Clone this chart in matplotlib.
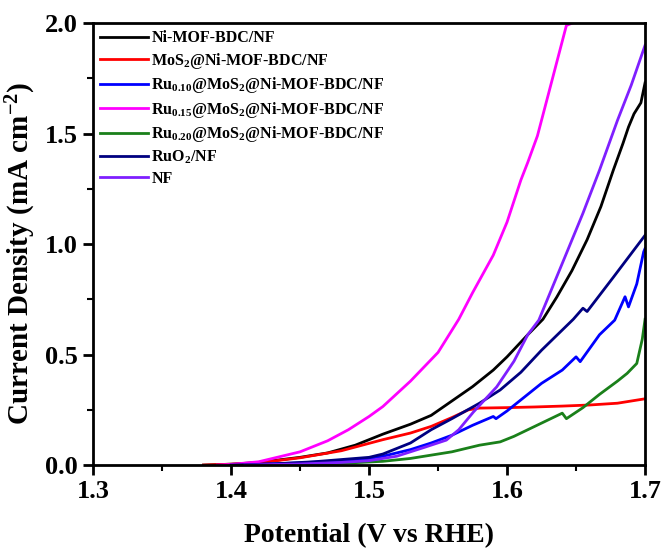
import numpy as np
import matplotlib.pyplot as plt
from matplotlib.ticker import MultipleLocator

plt.rcParams['font.family'] = 'Liberation Serif'
plt.rcParams['font.weight'] = 'bold'
plt.rcParams['mathtext.fontset'] = 'custom'
plt.rcParams['mathtext.rm'] = 'Liberation Serif:bold'
plt.rcParams['mathtext.bf'] = 'Liberation Serif:bold'
plt.rcParams['mathtext.default'] = 'bf'

# LSV curves, potential (V vs RHE) and current density (mA cm-2)
v_ni = [1.38, 1.40, 1.42, 1.45, 1.47, 1.49, 1.51, 1.53, 1.545, 1.56, 1.575, 1.59, 1.60,
        1.615, 1.626, 1.636, 1.647, 1.658, 1.668, 1.677, 1.684, 1.688, 1.692, 1.697, 1.70]
j_ni = [0.0, 0.004, 0.012, 0.035, 0.055, 0.09, 0.14, 0.185, 0.225, 0.29, 0.355, 0.43, 0.49,
        0.59, 0.66, 0.76, 0.88, 1.02, 1.17, 1.335, 1.456, 1.53, 1.59, 1.64, 1.73]

v_mos2 = [1.38, 1.40, 1.42, 1.45, 1.48, 1.51, 1.53, 1.545, 1.56, 1.572, 1.58, 1.60, 1.62,
          1.64, 1.66, 1.68, 1.70]
j_mos2 = [0.0, 0.004, 0.01, 0.033, 0.065, 0.115, 0.145, 0.175, 0.215, 0.25, 0.258, 0.26,
          0.263, 0.267, 0.272, 0.28, 0.30]

v_ru10 = [1.40, 1.45, 1.48, 1.50, 1.51, 1.53, 1.545, 1.56, 1.575, 1.59, 1.592, 1.60, 1.615,
          1.625, 1.64, 1.65, 1.653, 1.667, 1.678, 1.6855, 1.688, 1.694, 1.699, 1.70]
j_ru10 = [0.0, 0.01, 0.02, 0.03, 0.04, 0.07, 0.10, 0.135, 0.18, 0.22, 0.21, 0.245, 0.32,
          0.37, 0.43, 0.49, 0.468, 0.59, 0.656, 0.762, 0.716, 0.82, 0.965, 0.98]

v_ru15 = [1.39, 1.40, 1.42, 1.45, 1.47, 1.485, 1.50, 1.51, 1.53, 1.55, 1.565, 1.575, 1.59,
          1.60, 1.61, 1.615, 1.622, 1.63, 1.643, 1.647]
j_ru15 = [0.0, 0.003, 0.015, 0.06, 0.11, 0.16, 0.22, 0.265, 0.38, 0.51, 0.66, 0.78, 0.95,
          1.10, 1.29, 1.37, 1.49, 1.68, 1.99, 2.0]

v_ru20 = [1.42, 1.45, 1.48, 1.51, 1.53, 1.545, 1.56, 1.58, 1.595, 1.605, 1.62, 1.64, 1.643,
          1.655, 1.667, 1.68, 1.687, 1.694, 1.698, 1.70]
j_ru20 = [0.0, 0.003, 0.008, 0.017, 0.03, 0.045, 0.06, 0.09, 0.105, 0.13, 0.175, 0.235,
          0.21, 0.26, 0.32, 0.38, 0.415, 0.46, 0.57, 0.66]

v_ruo2 = [1.40, 1.43, 1.46, 1.48, 1.50, 1.51, 1.53, 1.545, 1.56, 1.58, 1.595, 1.61, 1.625,
          1.648, 1.655, 1.658, 1.677, 1.70]
j_ruo2 = [0.0, 0.005, 0.015, 0.025, 0.035, 0.05, 0.10, 0.16, 0.21, 0.28, 0.34, 0.42, 0.52,
          0.66, 0.71, 0.695, 0.85, 1.04]

v_nf = [1.41, 1.45, 1.48, 1.50, 1.52, 1.54, 1.556, 1.565, 1.5756, 1.5925, 1.605, 1.615,
        1.623, 1.643, 1.655, 1.667, 1.68, 1.69, 1.70]
j_nf = [0.0, 0.005, 0.012, 0.02, 0.04, 0.08, 0.113, 0.16, 0.24, 0.354, 0.47, 0.59,
        0.656, 0.958, 1.14, 1.335, 1.56, 1.72, 1.90]

fig = plt.figure(figsize=(6.65, 5.53), dpi=100)
ax = fig.add_axes([0.14, 0.159, 0.83, 0.799])

lw = 2.0
ax.plot(v_ni, j_ni, color='black', lw=lw, label='Ni-MOF-BDC/NF')
ax.plot(v_mos2, j_mos2, color='#ff0000', lw=lw, label=r'MoS$_2$@Ni-MOF-BDC/NF')
ax.plot(v_ru10, j_ru10, color='#0000ff', lw=lw, label=r'Ru$_{0.10}$@MoS$_2$@Ni-MOF-BDC/NF')
ax.plot(v_ru15, j_ru15, color='#ff00ff', lw=lw, label=r'Ru$_{0.15}$@MoS$_2$@Ni-MOF-BDC/NF')
ax.plot(v_ru20, j_ru20, color='#1a801a', lw=lw, label=r'Ru$_{0.20}$@MoS$_2$@Ni-MOF-BDC/NF')
ax.plot(v_ruo2, j_ruo2, color='#000080', lw=lw, label=r'RuO$_2$/NF')
ax.plot(v_nf, j_nf, color='#7f1fff', lw=lw, label='NF')

ax.set_xlim(1.3, 1.7)
ax.set_ylim(0, 2.0)
ax.xaxis.set_major_locator(MultipleLocator(0.1))
ax.xaxis.set_minor_locator(MultipleLocator(0.05))
ax.yaxis.set_major_locator(MultipleLocator(0.5))
ax.yaxis.set_minor_locator(MultipleLocator(0.25))
ax.tick_params(which='major', direction='out', length=7, width=2, labelsize=19, pad=4)
ax.tick_params(which='minor', direction='out', length=4, width=1.5)
for s in ax.spines.values():
    s.set_linewidth(2)

ax.set_xlabel('Potential (V vs RHE)', fontsize=20, fontweight='bold', labelpad=14)
ax.set_ylabel(r'Current Density (mA cm$^{-2}$)', fontsize=21, fontweight='bold', labelpad=2)
ax.yaxis.set_label_coords(-0.1, 0.48)

ax.legend(loc='upper left', frameon=False, fontsize=11.5, handlelength=3.0,
          handletextpad=0.2, labelspacing=0.28, borderaxespad=0.25, borderpad=0.2)

plt.savefig('out.png', dpi=100)
